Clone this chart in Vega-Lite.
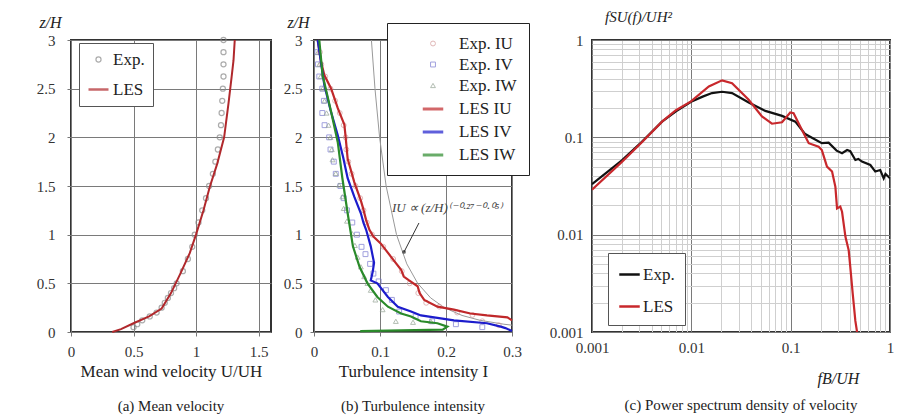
{
  "$schema": "https://vega.github.io/schema/vega-lite/v6.json",
  "background": "white",
  "padding": {"left": 35, "top": 8, "right": 5, "bottom": 5},
  "config": {
    "font": "Liberation Serif",
    "view": {"stroke": "#333", "strokeWidth": 2},
    "axis": {"domain": false, "grid": true, "gridColor": "#7a7a7a", "gridWidth": 1, "labelFont": "Liberation Serif", "labelFontSize": 15, "labelColor": "#333", "ticks": true, "tickColor": "#777", "tickSize": 4, "titleFont": "Liberation Serif", "titleFontSize": 17, "titleFontWeight": "normal", "titleColor": "#222", "labelOverlap": false, "labelFlush": false},
    "legend": {"labelFont": "Liberation Serif", "labelFontSize": 17, "labelColor": "#222", "fillColor": "white"},
    "title": {"font": "Liberation Serif", "fontSize": 15, "fontWeight": "normal", "color": "#222"}
  },
  "datasets": {
    "a_exp": [
      {"U": 1.22, "z": 3.0, "s": "Exp."}, {"U": 1.22, "z": 2.875, "s": "Exp."}, {"U": 1.22, "z": 2.75, "s": "Exp."}, {"U": 1.22, "z": 2.625, "s": "Exp."},
      {"U": 1.215, "z": 2.5, "s": "Exp."}, {"U": 1.21, "z": 2.375, "s": "Exp."}, {"U": 1.205, "z": 2.25, "s": "Exp."}, {"U": 1.2, "z": 2.125, "s": "Exp."},
      {"U": 1.19, "z": 2.0, "s": "Exp."}, {"U": 1.175, "z": 1.875, "s": "Exp."}, {"U": 1.155, "z": 1.75, "s": "Exp."}, {"U": 1.135, "z": 1.625, "s": "Exp."},
      {"U": 1.105, "z": 1.5, "s": "Exp."}, {"U": 1.08, "z": 1.375, "s": "Exp."}, {"U": 1.05, "z": 1.25, "s": "Exp."}, {"U": 1.02, "z": 1.125, "s": "Exp."},
      {"U": 0.99, "z": 1.0, "s": "Exp."}, {"U": 0.97, "z": 0.875, "s": "Exp."}, {"U": 0.935, "z": 0.75, "s": "Exp."}, {"U": 0.895, "z": 0.625, "s": "Exp."},
      {"U": 0.845, "z": 0.5, "s": "Exp."}, {"U": 0.825, "z": 0.45, "s": "Exp."}, {"U": 0.8, "z": 0.4, "s": "Exp."}, {"U": 0.775, "z": 0.35, "s": "Exp."},
      {"U": 0.75, "z": 0.3, "s": "Exp."}, {"U": 0.725, "z": 0.25, "s": "Exp."}, {"U": 0.685, "z": 0.2, "s": "Exp."}, {"U": 0.63, "z": 0.16, "s": "Exp."},
      {"U": 0.57, "z": 0.12, "s": "Exp."}, {"U": 0.53, "z": 0.08, "s": "Exp."}, {"U": 0.5, "z": 0.05, "s": "Exp."}
    ],
    "a_les": [
      {"U": 0.33, "z": 0.0, "s": "LES"}, {"U": 0.4, "z": 0.03, "s": "LES"}, {"U": 0.5, "z": 0.09, "s": "LES"}, {"U": 0.625, "z": 0.16, "s": "LES"},
      {"U": 0.725, "z": 0.24, "s": "LES"}, {"U": 0.8, "z": 0.4, "s": "LES"}, {"U": 0.875, "z": 0.6, "s": "LES"}, {"U": 0.95, "z": 0.81, "s": "LES"},
      {"U": 1.0, "z": 1.0, "s": "LES"}, {"U": 1.06, "z": 1.25, "s": "LES"}, {"U": 1.11, "z": 1.49, "s": "LES"}, {"U": 1.17, "z": 1.73, "s": "LES"},
      {"U": 1.225, "z": 2.0, "s": "LES"}, {"U": 1.26, "z": 2.35, "s": "LES"}, {"U": 1.285, "z": 2.62, "s": "LES"}, {"U": 1.3, "z": 2.79, "s": "LES"},
      {"U": 1.31, "z": 3.0, "s": "LES"}
    ],
    "b_exp": [
      {"I": 0.009, "z": 2.875, "s": "Exp. IU"}, {"I": 0.011, "z": 2.75, "s": "Exp. IU"}, {"I": 0.017, "z": 2.625, "s": "Exp. IU"}, {"I": 0.025, "z": 2.5, "s": "Exp. IU"},
      {"I": 0.032, "z": 2.375, "s": "Exp. IU"}, {"I": 0.039, "z": 2.25, "s": "Exp. IU"}, {"I": 0.045, "z": 2.125, "s": "Exp. IU"}, {"I": 0.048, "z": 2.0, "s": "Exp. IU"},
      {"I": 0.049, "z": 1.875, "s": "Exp. IU"}, {"I": 0.052, "z": 1.75, "s": "Exp. IU"}, {"I": 0.057, "z": 1.625, "s": "Exp. IU"}, {"I": 0.063, "z": 1.5, "s": "Exp. IU"},
      {"I": 0.07, "z": 1.375, "s": "Exp. IU"}, {"I": 0.075, "z": 1.25, "s": "Exp. IU"}, {"I": 0.08, "z": 1.125, "s": "Exp. IU"}, {"I": 0.088, "z": 1.0, "s": "Exp. IU"},
      {"I": 0.105, "z": 0.875, "s": "Exp. IU"}, {"I": 0.12, "z": 0.75, "s": "Exp. IU"}, {"I": 0.133, "z": 0.625, "s": "Exp. IU"}, {"I": 0.145, "z": 0.5, "s": "Exp. IU"},
      {"I": 0.158, "z": 0.4, "s": "Exp. IU"}, {"I": 0.17, "z": 0.3, "s": "Exp. IU"}, {"I": 0.19, "z": 0.26, "s": "Exp. IU"}, {"I": 0.217, "z": 0.2, "s": "Exp. IU"},
      {"I": 0.24, "z": 0.175, "s": "Exp. IU"}, {"I": 0.255, "z": 0.11, "s": "Exp. IU"}, {"I": 0.28, "z": 0.07, "s": "Exp. IU"},
      {"I": 0.005, "z": 2.875, "s": "Exp. IV"}, {"I": 0.006, "z": 2.75, "s": "Exp. IV"}, {"I": 0.008, "z": 2.625, "s": "Exp. IV"}, {"I": 0.0126, "z": 2.5, "s": "Exp. IV"},
      {"I": 0.015, "z": 2.375, "s": "Exp. IV"}, {"I": 0.0126, "z": 2.25, "s": "Exp. IV"}, {"I": 0.016, "z": 2.125, "s": "Exp. IV"}, {"I": 0.023, "z": 2.0, "s": "Exp. IV"},
      {"I": 0.025, "z": 1.875, "s": "Exp. IV"}, {"I": 0.03, "z": 1.75, "s": "Exp. IV"}, {"I": 0.033, "z": 1.625, "s": "Exp. IV"}, {"I": 0.04, "z": 1.5, "s": "Exp. IV"},
      {"I": 0.045, "z": 1.375, "s": "Exp. IV"}, {"I": 0.05, "z": 1.25, "s": "Exp. IV"}, {"I": 0.058, "z": 1.125, "s": "Exp. IV"}, {"I": 0.065, "z": 1.0, "s": "Exp. IV"},
      {"I": 0.072, "z": 0.875, "s": "Exp. IV"}, {"I": 0.078, "z": 0.8, "s": "Exp. IV"}, {"I": 0.085, "z": 0.7, "s": "Exp. IV"}, {"I": 0.09, "z": 0.6, "s": "Exp. IV"},
      {"I": 0.098, "z": 0.52, "s": "Exp. IV"}, {"I": 0.109, "z": 0.43, "s": "Exp. IV"}, {"I": 0.118, "z": 0.33, "s": "Exp. IV"}, {"I": 0.129, "z": 0.21, "s": "Exp. IV"},
      {"I": 0.154, "z": 0.16, "s": "Exp. IV"}, {"I": 0.179, "z": 0.11, "s": "Exp. IV"}, {"I": 0.215, "z": 0.08, "s": "Exp. IV"}, {"I": 0.255, "z": 0.05, "s": "Exp. IV"},
      {"I": 0.006, "z": 2.875, "s": "Exp. IW"}, {"I": 0.008, "z": 2.75, "s": "Exp. IW"}, {"I": 0.01, "z": 2.625, "s": "Exp. IW"}, {"I": 0.013, "z": 2.5, "s": "Exp. IW"},
      {"I": 0.016, "z": 2.375, "s": "Exp. IW"}, {"I": 0.019, "z": 2.25, "s": "Exp. IW"}, {"I": 0.022, "z": 2.125, "s": "Exp. IW"}, {"I": 0.025, "z": 2.0, "s": "Exp. IW"},
      {"I": 0.027, "z": 1.875, "s": "Exp. IW"}, {"I": 0.028, "z": 1.77, "s": "Exp. IW"}, {"I": 0.033, "z": 1.63, "s": "Exp. IW"}, {"I": 0.038, "z": 1.51, "s": "Exp. IW"},
      {"I": 0.043, "z": 1.39, "s": "Exp. IW"}, {"I": 0.045, "z": 1.27, "s": "Exp. IW"}, {"I": 0.05, "z": 1.14, "s": "Exp. IW"}, {"I": 0.058, "z": 1.01, "s": "Exp. IW"},
      {"I": 0.062, "z": 0.89, "s": "Exp. IW"}, {"I": 0.066, "z": 0.77, "s": "Exp. IW"}, {"I": 0.071, "z": 0.67, "s": "Exp. IW"}, {"I": 0.076, "z": 0.57, "s": "Exp. IW"},
      {"I": 0.081, "z": 0.5, "s": "Exp. IW"}, {"I": 0.086, "z": 0.43, "s": "Exp. IW"}, {"I": 0.093, "z": 0.33, "s": "Exp. IW"}, {"I": 0.104, "z": 0.23, "s": "Exp. IW"},
      {"I": 0.124, "z": 0.11, "s": "Exp. IW"}, {"I": 0.15, "z": 0.1, "s": "Exp. IW"}, {"I": 0.177, "z": 0.11, "s": "Exp. IW"}
    ],
    "b_les": [
      {"I": 0.0056, "z": 3.0, "s": "LES IU"}, {"I": 0.0106, "z": 2.78, "s": "LES IU"}, {"I": 0.0156, "z": 2.64, "s": "LES IU"}, {"I": 0.026, "z": 2.5, "s": "LES IU"},
      {"I": 0.036, "z": 2.3, "s": "LES IU"}, {"I": 0.046, "z": 2.13, "s": "LES IU"}, {"I": 0.048, "z": 2.0, "s": "LES IU"}, {"I": 0.051, "z": 1.78, "s": "LES IU"},
      {"I": 0.061, "z": 1.54, "s": "LES IU"}, {"I": 0.071, "z": 1.35, "s": "LES IU"}, {"I": 0.074, "z": 1.28, "s": "LES IU"}, {"I": 0.079, "z": 1.15, "s": "LES IU"},
      {"I": 0.084, "z": 1.05, "s": "LES IU"}, {"I": 0.09, "z": 0.98, "s": "LES IU"}, {"I": 0.101, "z": 0.91, "s": "LES IU"}, {"I": 0.117, "z": 0.77, "s": "LES IU"},
      {"I": 0.132, "z": 0.64, "s": "LES IU"}, {"I": 0.136, "z": 0.57, "s": "LES IU"}, {"I": 0.144, "z": 0.53, "s": "LES IU"}, {"I": 0.157, "z": 0.47, "s": "LES IU"},
      {"I": 0.16, "z": 0.4, "s": "LES IU"}, {"I": 0.167, "z": 0.33, "s": "LES IU"}, {"I": 0.187, "z": 0.26, "s": "LES IU"}, {"I": 0.212, "z": 0.23, "s": "LES IU"},
      {"I": 0.237, "z": 0.19, "s": "LES IU"}, {"I": 0.262, "z": 0.17, "s": "LES IU"}, {"I": 0.293, "z": 0.15, "s": "LES IU"}, {"I": 0.3, "z": 0.12, "s": "LES IU"},
      {"I": 0.0056, "z": 3.0, "s": "LES IV"}, {"I": 0.01, "z": 2.8, "s": "LES IV"}, {"I": 0.0156, "z": 2.54, "s": "LES IV"}, {"I": 0.025, "z": 2.28, "s": "LES IV"},
      {"I": 0.036, "z": 2.02, "s": "LES IV"}, {"I": 0.044, "z": 1.8, "s": "LES IV"}, {"I": 0.051, "z": 1.58, "s": "LES IV"}, {"I": 0.061, "z": 1.39, "s": "LES IV"},
      {"I": 0.071, "z": 1.22, "s": "LES IV"}, {"I": 0.075, "z": 1.12, "s": "LES IV"}, {"I": 0.079, "z": 1.05, "s": "LES IV"}, {"I": 0.086, "z": 0.88, "s": "LES IV"},
      {"I": 0.091, "z": 0.71, "s": "LES IV"}, {"I": 0.089, "z": 0.62, "s": "LES IV"}, {"I": 0.086, "z": 0.53, "s": "LES IV"}, {"I": 0.096, "z": 0.5, "s": "LES IV"},
      {"I": 0.112, "z": 0.36, "s": "LES IV"}, {"I": 0.127, "z": 0.26, "s": "LES IV"}, {"I": 0.147, "z": 0.21, "s": "LES IV"}, {"I": 0.162, "z": 0.17, "s": "LES IV"},
      {"I": 0.212, "z": 0.12, "s": "LES IV"}, {"I": 0.262, "z": 0.09, "s": "LES IV"}, {"I": 0.283, "z": 0.055, "s": "LES IV"}, {"I": 0.29, "z": 0.04, "s": "LES IV"},
      {"I": 0.3, "z": 0.01, "s": "LES IV"},
      {"I": 0.008, "z": 3.0, "s": "LES IW"}, {"I": 0.013, "z": 2.64, "s": "LES IW"}, {"I": 0.026, "z": 2.26, "s": "LES IW"}, {"I": 0.036, "z": 1.95, "s": "LES IW"},
      {"I": 0.043, "z": 1.58, "s": "LES IW"}, {"I": 0.051, "z": 1.22, "s": "LES IW"}, {"I": 0.059, "z": 0.88, "s": "LES IW"}, {"I": 0.069, "z": 0.67, "s": "LES IW"},
      {"I": 0.081, "z": 0.5, "s": "LES IW"}, {"I": 0.096, "z": 0.36, "s": "LES IW"}, {"I": 0.112, "z": 0.26, "s": "LES IW"}, {"I": 0.132, "z": 0.19, "s": "LES IW"},
      {"I": 0.147, "z": 0.16, "s": "LES IW"}, {"I": 0.162, "z": 0.11, "s": "LES IW"}, {"I": 0.187, "z": 0.09, "s": "LES IW"}, {"I": 0.202, "z": 0.055, "s": "LES IW"},
      {"I": 0.195, "z": 0.025, "s": "LES IW"}, {"I": 0.07, "z": 0.01, "s": "LES IW"}
    ],
    "b_fit": [
      {"I": 0.087, "z": 3.0}, {"I": 0.0924, "z": 2.5}, {"I": 0.0994, "z": 2.0}, {"I": 0.1093, "z": 1.5}, {"I": 0.125, "z": 1.0},
      {"I": 0.1406, "z": 0.7}, {"I": 0.1571, "z": 0.5}, {"I": 0.1768, "z": 0.35}, {"I": 0.1975, "z": 0.25}, {"I": 0.2243, "z": 0.17},
      {"I": 0.2516, "z": 0.12}, {"I": 0.2877, "z": 0.08}, {"I": 0.3, "z": 0.07}
    ],
    "b_note": [{"I": 0.118, "z": 1.27, "label": "IU ∝ (z/H)⁽⁻⁰·²⁷⁻⁰·⁰⁵⁾"}],
    "b_arrow": [{"I": 0.159, "z": 1.12, "I2": 0.1364, "z2": 0.822}],
    "c": [
      {"f": 0.001, "S": 0.033, "s": "Exp."}, {"f": 0.002, "S": 0.058, "s": "Exp."}, {"f": 0.00318, "S": 0.09, "s": "Exp."}, {"f": 0.00507, "S": 0.145, "s": "Exp."},
      {"f": 0.007, "S": 0.185, "s": "Exp."}, {"f": 0.00993, "S": 0.232, "s": "Exp."}, {"f": 0.013, "S": 0.262, "s": "Exp."}, {"f": 0.01614, "S": 0.285, "s": "Exp."},
      {"f": 0.0204, "S": 0.294, "s": "Exp."}, {"f": 0.0257, "S": 0.285, "s": "Exp."}, {"f": 0.0378, "S": 0.228, "s": "Exp."}, {"f": 0.0556, "S": 0.187, "s": "Exp."},
      {"f": 0.0819, "S": 0.166, "s": "Exp."}, {"f": 0.1114, "S": 0.145, "s": "Exp."}, {"f": 0.14, "S": 0.108, "s": "Exp."}, {"f": 0.206, "S": 0.087, "s": "Exp."},
      {"f": 0.241, "S": 0.088, "s": "Exp."}, {"f": 0.29, "S": 0.073, "s": "Exp."}, {"f": 0.329, "S": 0.0686, "s": "Exp."}, {"f": 0.37, "S": 0.074, "s": "Exp."},
      {"f": 0.398, "S": 0.072, "s": "Exp."}, {"f": 0.448, "S": 0.0585, "s": "Exp."}, {"f": 0.48, "S": 0.06, "s": "Exp."}, {"f": 0.522, "S": 0.0563, "s": "Exp."},
      {"f": 0.634, "S": 0.052, "s": "Exp."}, {"f": 0.711, "S": 0.0445, "s": "Exp."}, {"f": 0.798, "S": 0.0461, "s": "Exp."}, {"f": 0.864, "S": 0.0379, "s": "Exp."},
      {"f": 0.9, "S": 0.042, "s": "Exp."}, {"f": 1.0, "S": 0.038, "s": "Exp."},
      {"f": 0.001, "S": 0.029, "s": "LES"}, {"f": 0.002, "S": 0.056, "s": "LES"}, {"f": 0.00318, "S": 0.089, "s": "LES"}, {"f": 0.00507, "S": 0.145, "s": "LES"},
      {"f": 0.007, "S": 0.19, "s": "LES"}, {"f": 0.00993, "S": 0.234, "s": "LES"}, {"f": 0.015, "S": 0.333, "s": "LES"}, {"f": 0.0204, "S": 0.385, "s": "LES"},
      {"f": 0.0257, "S": 0.36, "s": "LES"}, {"f": 0.0378, "S": 0.243, "s": "LES"}, {"f": 0.0514, "S": 0.164, "s": "LES"}, {"f": 0.0648, "S": 0.138, "s": "LES"},
      {"f": 0.0818, "S": 0.143, "s": "LES"}, {"f": 0.0991, "S": 0.18, "s": "LES"}, {"f": 0.107, "S": 0.177, "s": "LES"}, {"f": 0.13, "S": 0.119, "s": "LES"},
      {"f": 0.152, "S": 0.087, "s": "LES"}, {"f": 0.191, "S": 0.08, "s": "LES"}, {"f": 0.206, "S": 0.074, "s": "LES"}, {"f": 0.232, "S": 0.05, "s": "LES"},
      {"f": 0.261, "S": 0.0445, "s": "LES"}, {"f": 0.282, "S": 0.031, "s": "LES"}, {"f": 0.293, "S": 0.0186, "s": "LES"}, {"f": 0.316, "S": 0.0194, "s": "LES"},
      {"f": 0.329, "S": 0.0172, "s": "LES"}, {"f": 0.356, "S": 0.0095, "s": "LES"}, {"f": 0.384, "S": 0.0069, "s": "LES"}, {"f": 0.398, "S": 0.0047, "s": "LES"},
      {"f": 0.421, "S": 0.0025, "s": "LES"}, {"f": 0.448, "S": 0.0013, "s": "LES"}, {"f": 0.466, "S": 0.001, "s": "LES"}
    ]
  },
  "spacing": 7,
  "hconcat": [
    {
      "width": 200, "height": 292,
      "title": {"text": "(a) Mean velocity", "orient": "bottom", "offset": 20},
      "layer": [
        {
          "data": {"name": "a_exp"},
          "mark": {"type": "point", "filled": false},
          "encoding": {
            "x": {"field": "U", "type": "quantitative", "scale": {"domain": [0, 1.5]}, "axis": {"values": [0, 0.5, 1, 1.5], "format": "~g", "title": "Mean wind velocity  U/UH", "labelPadding": 8, "titlePadding": 4}},
            "y": {"field": "z", "type": "quantitative", "scale": {"domain": [0, 3]}, "axis": {"values": [0, 0.5, 1, 1.5, 2, 2.5, 3], "format": "~g", "title": "z/H", "titleAngle": 0, "titleX": -21, "titleY": -18, "titleAlign": "center", "titleBaseline": "middle", "titleFontStyle": "italic", "titleFontSize": 16, "labelPadding": 12}},
            "color": {"field": "s", "type": "nominal", "scale": {"domain": ["Exp.", "LES"], "range": ["#8a8a8a", "#b0282c"]},
              "legend": {"title": null, "orient": "none", "legendX": 8, "legendY": 3, "strokeColor": "#555", "padding": 8, "rowPadding": 10, "labelOffset": 3}},
            "shape": {"field": "s", "type": "nominal", "scale": {"domain": ["Exp.", "LES"], "range": ["circle", "stroke"]},
              "legend": {"title": null, "orient": "none", "legendX": 8, "legendY": 3, "strokeColor": "#555", "padding": 8, "rowPadding": 10, "labelOffset": 3}},
            "size": {"field": "s", "type": "nominal", "scale": {"domain": ["Exp.", "LES"], "range": [26, 400]},
              "legend": {"title": null, "orient": "none", "legendX": 8, "legendY": 3, "strokeColor": "#555", "padding": 8, "rowPadding": 10, "labelOffset": 3}},
            "strokeWidth": {"field": "s", "type": "nominal", "scale": {"domain": ["Exp.", "LES"], "range": [1.2, 2.5]},
              "legend": {"title": null, "orient": "none", "legendX": 8, "legendY": 3, "strokeColor": "#555", "padding": 8, "rowPadding": 10, "labelOffset": 3}}
          }
        },
        {
          "data": {"name": "a_les"},
          "mark": {"type": "line", "strokeWidth": 2},
          "encoding": {
            "x": {"field": "U", "type": "quantitative"},
            "y": {"field": "z", "type": "quantitative"},
            "order": {"field": "z", "type": "quantitative"},
            "color": {"field": "s", "type": "nominal", "scale": {"domain": ["Exp.", "LES"], "range": ["#8a8a8a", "#b0282c"]},
              "legend": {"title": null, "orient": "none", "legendX": 8, "legendY": 3, "strokeColor": "#555", "padding": 8, "rowPadding": 10, "labelOffset": 3}}
          }
        }
      ]
    },
    {
      "width": 198, "height": 292,
      "title": {"text": "(b) Turbulence intensity", "orient": "bottom", "offset": 20},
      "layer": [
        {
          "data": {"name": "b_fit"},
          "mark": {"type": "line", "stroke": "#999", "strokeWidth": 1},
          "encoding": {
            "x": {"field": "I", "type": "quantitative", "scale": {"domain": [0, 0.3]}, "axis": {"values": [0, 0.1, 0.2, 0.3], "format": "~g", "title": "Turbulence intensity  I", "labelPadding": 8, "titlePadding": 4}},
            "y": {"field": "z", "type": "quantitative", "scale": {"domain": [0, 3]}, "axis": {"values": [0, 0.5, 1, 1.5, 2, 2.5, 3], "format": "~g", "title": "z/H", "titleAngle": 0, "titleX": -16, "titleY": -18, "titleAlign": "center", "titleBaseline": "middle", "titleFontStyle": "italic", "titleFontSize": 16, "labelPadding": 8, "minExtent": 34}},
            "order": {"field": "z", "type": "quantitative"}
          }
        },
        {
          "data": {"name": "b_exp"},
          "mark": {"type": "point", "filled": false},
          "encoding": {
            "x": {"field": "I", "type": "quantitative"},
            "y": {"field": "z", "type": "quantitative"},
            "color": {"field": "s", "type": "nominal", "scale": {"domain": ["Exp. IU", "Exp. IV", "Exp. IW", "LES IU", "LES IV", "LES IW"], "range": ["#d49a9a", "#7a7ad0", "#93a293", "#c0282a", "#1c1ccc", "#2a8a2a"]},
              "legend": {"title": null, "orient": "none", "legendX": 73, "legendY": -17, "strokeColor": "#222", "padding": 12, "rowPadding": 3, "labelOffset": 14, "symbolOffset": 22}},
            "shape": {"field": "s", "type": "nominal", "scale": {"domain": ["Exp. IU", "Exp. IV", "Exp. IW", "LES IU", "LES IV", "LES IW"], "range": ["circle", "square", "triangle-up", "stroke", "stroke", "stroke"]},
              "legend": {"title": null, "orient": "none", "legendX": 73, "legendY": -17, "strokeColor": "#222", "padding": 12, "rowPadding": 3, "labelOffset": 14, "symbolOffset": 22}},
            "size": {"field": "s", "type": "nominal", "scale": {"type": "ordinal", "domain": ["Exp. IU", "Exp. IV", "Exp. IW", "LES IU", "LES IV", "LES IW"], "range": [24, 24, 24, 420, 420, 420]},
              "legend": {"title": null, "orient": "none", "legendX": 73, "legendY": -17, "strokeColor": "#222", "padding": 12, "rowPadding": 3, "labelOffset": 14, "symbolOffset": 22}},
            "strokeWidth": {"field": "s", "type": "nominal", "scale": {"type": "ordinal", "domain": ["Exp. IU", "Exp. IV", "Exp. IW", "LES IU", "LES IV", "LES IW"], "range": [1, 1, 1, 3, 3, 3]},
              "legend": {"title": null, "orient": "none", "legendX": 73, "legendY": -17, "strokeColor": "#222", "padding": 12, "rowPadding": 3, "labelOffset": 14, "symbolOffset": 22}}
          }
        },
        {
          "data": {"name": "b_les"},
          "mark": {"type": "line", "strokeWidth": 2.2},
          "encoding": {
            "x": {"field": "I", "type": "quantitative"},
            "y": {"field": "z", "type": "quantitative"},
            "order": {"field": "z", "type": "quantitative"},
            "color": {"field": "s", "type": "nominal", "scale": {"domain": ["Exp. IU", "Exp. IV", "Exp. IW", "LES IU", "LES IV", "LES IW"], "range": ["#d49a9a", "#7a7ad0", "#93a293", "#c0282a", "#1c1ccc", "#2a8a2a"]},
              "legend": {"title": null, "orient": "none", "legendX": 73, "legendY": -17, "strokeColor": "#222", "padding": 12, "rowPadding": 3, "labelOffset": 14, "symbolOffset": 22}}
          }
        },
        {
          "data": {"name": "b_arrow"},
          "mark": {"type": "rule", "stroke": "#333", "strokeWidth": 1},
          "encoding": {
            "x": {"field": "I", "type": "quantitative"},
            "y": {"field": "z", "type": "quantitative"},
            "x2": {"field": "I2"},
            "y2": {"field": "z2"}
          }
        },
        {
          "data": {"name": "b_arrow"},
          "mark": {"type": "point", "filled": true, "color": "#222", "size": 14},
          "encoding": {
            "x": {"field": "I2", "type": "quantitative"},
            "y": {"field": "z2", "type": "quantitative"}
          }
        },
        {
          "data": {"name": "b_note"},
          "mark": {"type": "text", "align": "left", "baseline": "middle", "fontStyle": "italic", "fontSize": 13, "color": "#444", "font": "Liberation Serif"},
          "encoding": {
            "x": {"field": "I", "type": "quantitative"},
            "y": {"field": "z", "type": "quantitative"},
            "text": {"field": "label"}
          }
        }
      ]
    },
    {
      "width": 298, "height": 292,
      "title": {"text": "(c) Power spectrum density of velocity", "orient": "bottom", "offset": 12},
      "data": {"name": "c"},
      "mark": {"type": "line", "strokeWidth": 2.2, "clip": true},
      "encoding": {
        "x": {"field": "f", "type": "quantitative", "scale": {"type": "log", "domain": [0.001, 1]},
          "axis": {"values": [0.001, 0.002, 0.003, 0.004, 0.005, 0.006, 0.007, 0.008, 0.009, 0.01, 0.02, 0.03, 0.04, 0.05, 0.06, 0.07, 0.08, 0.09, 0.1, 0.2, 0.3, 0.4, 0.5, 0.6, 0.7, 0.8, 0.9, 1],
            "format": "~g", "labelExpr": "abs(log(datum.value)/LN10 - round(log(datum.value)/LN10)) < 1e-6 ? datum.label : ''",
            "gridColor": {"condition": {"test": "abs(log(datum.value)/LN10 - round(log(datum.value)/LN10)) < 1e-6", "value": "#7a7a7a"}, "value": "#cfcfcf"},
            "tickSize": 0, "labelPadding": 8,
            "title": "fB/UH", "titleFontStyle": "italic", "titleFontSize": 16, "titleX": 246, "titleY": 46, "titleAlign": "center", "titleBaseline": "middle"}},
        "y": {"field": "S", "type": "quantitative", "scale": {"type": "log", "domain": [0.001, 1]},
          "axis": {"values": [0.001, 0.002, 0.003, 0.004, 0.005, 0.006, 0.007, 0.008, 0.009, 0.01, 0.02, 0.03, 0.04, 0.05, 0.06, 0.07, 0.08, 0.09, 0.1, 0.2, 0.3, 0.4, 0.5, 0.6, 0.7, 0.8, 0.9, 1],
            "format": "~g", "labelExpr": "abs(log(datum.value)/LN10 - round(log(datum.value)/LN10)) < 1e-6 ? datum.label : ''",
            "gridColor": {"condition": {"test": "abs(log(datum.value)/LN10 - round(log(datum.value)/LN10)) < 1e-6", "value": "#7a7a7a"}, "value": "#cfcfcf"},
            "tickSize": 0, "labelPadding": 9, "minExtent": 53,
            "title": "fSU(f)/UH²", "titleFontStyle": "italic", "titleFontSize": 15, "titleAngle": 0, "titleX": 46, "titleY": -24, "titleAlign": "center", "titleBaseline": "middle"}},
        "order": {"field": "f", "type": "quantitative"},
        "color": {"field": "s", "type": "nominal", "scale": {"domain": ["Exp.", "LES"], "range": ["#111111", "#c8282c"]},
          "legend": {"title": null, "orient": "none", "legendX": 16, "legendY": 213, "strokeColor": "#555", "padding": 10, "rowPadding": 12, "labelOffset": 2, "symbolType": "stroke", "symbolSize": 420, "symbolStrokeWidth": 2.5}}
      }
    }
  ],
  "resolve": {"scale": {"color": "independent", "shape": "independent", "size": "independent", "strokeWidth": "independent"}, "legend": {"color": "independent", "shape": "independent", "size": "independent", "strokeWidth": "independent"}}
}
